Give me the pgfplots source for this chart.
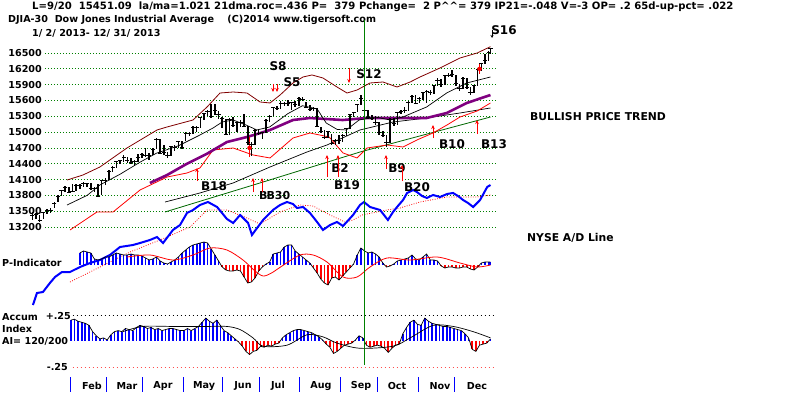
\documentclass[border=0pt]{standalone}
\usepackage{pgfplots}
\usepackage{pgfplotstable}
\pgfplotsset{compat=1.18}
\usepackage{fontspec}
\setmainfont{DejaVu Sans}
\usetikzlibrary{arrows.meta}
\definecolor{gridgreen}{RGB}{0,128,0}
\definecolor{maroonband}{RGB}{128,0,0}
\definecolor{mapurple}{RGB}{128,0,128}

\pgfplotstableread{
d c h l
0 13412 13480 13340
2 13435 13470 13360
4 13329 13420 13290
6 13471 13490 13360
8 13507 13540 13450
10 13511 13560 13470
12 13650 13670 13560
14 13779 13800 13680
16 13896 13910 13790
18 13954 13970 13860
20 13861 13960 13840
22 13880 14020 13860
24 13987 14010 13880
26 13992 14020 13930
28 14019 14050 13960
30 14018 14040 13950
32 13928 14030 13900
34 13927 13960 13870
36 13784 14010 13770
38 14075 14090 13800
40 14090 14120 13990
42 14254 14290 14100
44 14329 14350 14250
46 14448 14460 14320
48 14455 14480 14400
50 14514 14560 14430
52 14456 14530 14410
54 14421 14500 14390
56 14448 14470 14380
58 14527 14580 14440
60 14573 14600 14500
62 14550 14690 14520
64 14565 14600 14470
66 14673 14700 14560
68 14865 14890 14680
70 14599 14870 14580
72 14619 14760 14560
74 14547 14630 14500
76 14719 14740 14540
78 14700 14760 14650
80 14819 14840 14690
82 14700 14830 14680
84 14974 15010 14830
86 14969 15000 14930
88 15082 15110 14960
90 15091 15120 15010
92 15275 15290 15070
94 15354 15370 15230
96 15388 15420 15300
98 15294 15540 15270
100 15409 15540 15330
102 15324 15400 15250
104 15254 15280 15080
106 14960 15240 14940
108 15248 15260 14950
110 15122 15280 15100
112 15177 15200 15000
114 15180 15220 15100
116 15112 15340 15100
118 14800 15110 14760
120 14760 14820 14550
122 15024 15050 14750
124 14975 15060 14940
126 14988 15000 14860
128 15225 15240 14990
130 15291 15320 15200
132 15464 15480 15300
134 15452 15500 15420
136 15548 15580 15440
138 15545 15570 15500
140 15542 15600 15490
142 15559 15570 15420
144 15521 15580 15480
146 15628 15660 15500
148 15612 15660 15580
150 15470 15570 15450
152 15425 15520 15400
154 15451 15480 15400
156 15113 15450 15100
158 15010 15100 14980
160 14897 15040 14880
162 15010 15030 14880
164 14776 14960 14760
166 14840 14860 14760
168 14834 14940 14770
170 14938 14960 14820
172 15063 15080 14920
174 15326 15340 15060
176 15376 15390 15280
178 15529 15540 15380
180 15636 15710 15520
182 15401 15650 15390
184 15273 15420 15240
186 15258 15320 15230
188 15191 15300 15130
190 14997 15190 14950
192 14936 15030 14900
194 14802 14950 14720
196 15237 15260 14800
198 15168 15260 15120
200 15372 15390 15140
202 15392 15420 15350
204 15413 15470 15370
206 15570 15590 15400
208 15680 15700 15560
210 15546 15710 15530
212 15639 15660 15550
214 15746 15760 15600
216 15762 15790 15560
218 15751 15800 15710
220 15876 15890 15730
222 15976 16030 15870
224 15901 16010 15860
226 16065 16080 15900
228 16073 16120 16040
230 16086 16170 16050
232 15915 16090 15880
234 15821 15920 15780
236 16025 16040 15820
238 15844 16030 15830
240 15755 15860 15700
242 15875 15900 15740
244 16179 16190 15870
246 16294 16310 16160
248 16358 16490 16290
250 16505 16530 16350
251 16577 16590 16480
}\pricetable

\pgfplotstableread{
d c h l
119 14700 14900 14520
245 16200 16290 16110
}\redbars

\pgfplotstableread{
d v
26 12
28 14
30 13
32 12
34 6
36 5
38 6
40 8
42 8
44 10
46 12
48 11
50 10
52 10
54 11
56 10
58 10
60 9
62 7
64 5
66 6
68 8
70 4
72 2
74 1
76 3
78 5
80 8
82 12
84 15
86 18
88 20
90 21
92 22
94 23
96 22
98 16
100 10
102 4
104 -2
106 -5
108 -6
110 -6
112 -5
114 -6
116 -12
118 -18
120 -17
122 -13
124 -6
126 -2
128 1
130 3
132 11
134 12
136 13
138 18
140 20
142 20
144 14
146 11
148 8
150 5
152 2
154 -3
156 -8
158 -14
160 -18
162 -20
164 -13
166 -12
168 -15
170 -11
172 -7
174 -3
176 1
178 10
180 17
182 14
184 12
186 13
188 11
190 8
192 2
194 -2
196 -1
198 1
200 4
202 5
204 6
206 7
208 10
210 6
212 5
214 8
216 11
218 5
220 5
222 4
224 -1
226 -3
228 -2
230 -2
232 -3
234 -3
236 -2
238 -2
240 -4
242 -5
244 -2
246 2
248 3
250 3
251 3
}\pind

\pgfplotstableread{
d v
21 .20
23 .21
25 .19
27 .18
29 .17
31 .15
33 .09
35 .05
37 .02
39 .03
41 .01
43 .06
45 .09
47 .10
49 .09
51 .12
53 .11
55 .10
57 .13
59 .15
61 .14
63 .12
65 .13
67 .11
69 .12
71 .10
73 .11
75 .12
77 .12
79 .11
81 .10
83 .10
85 .12
87 .10
89 .12
91 .14
93 .18
95 .22
97 .19
99 .17
101 .20
103 .15
105 .10
107 .08
109 .05
111 .02
113 -.01
115 -.05
117 -.10
119 -.13
121 -.10
123 -.09
125 -.05
127 -.06
129 -.04
131 -.05
133 -.03
135 -.02
137 .03
139 .06
141 .08
143 .10
145 .11
147 .11
149 .10
151 .09
153 .08
155 .06
157 .04
159 .01
161 -.03
163 -.06
165 -.12
167 -.10
169 -.07
171 -.04
173 -.03
175 -.02
177 .01
179 .05
181 .03
183 -.04
185 -.06
187 -.05
189 -.04
191 -.05
193 -.07
195 -.11
197 -.07
199 -.04
201 -.03
203 .07
205 .13
207 .18
209 .20
211 .16
213 .15
215 .22
217 .19
219 .17
221 .16
223 .15
225 .14
227 .14
229 .13
231 .12
233 .11
235 .10
237 .07
239 .03
241 -.08
243 -.10
245 -.04
247 -.03
249 -.02
251 .02
}\accum

\begin{document}
\begin{tikzpicture}
\useasboundingbox (0,0) rectangle (800pt,397pt);
\pgfplotsset{panel/.style={scale only axis, width=800pt, height=397pt,
  at={(0pt,0pt)}, anchor=south west, xmin=-17.75, xmax=420.6, hide axis}}

% ---------------- price panel ----------------
\begin{axis}[panel, ymin=9976, ymax=17505]
\pgfplotsinvokeforeach{13200,13500,13800,14100,14400,14700,15000,15300,15600,15900,16200,16500}{
  \addplot[gridgreen, line width=0.7pt, dash pattern=on 0.8pt off 2.2pt] coordinates {(6.9,#1) (253.5,#1)};
}
% green trend line
\addplot[gridgreen!80!black, line width=0.8pt] coordinates {(72.7,13485) (124.7,14035) (179.5,14622) (251,15286)};
% long black MA
\addplot[black, line width=0.7pt] coordinates {(72.7,13674) (91.8,13845) (110,14035) (130.2,14338) (150.4,14622) (161.4,14755) (179.5,15040) (197.6,15191) (216,15267) (234.3,15362) (251,15457)};
% lower band
\addplot[red, line width=0.8pt] coordinates {(20.6,13143) (35.4,13485) (44.2,13485) (59,13902) (73.8,14148) (84.7,14224) (91.8,14319) (99,14660) (110,14698) (120.9,14566) (130.2,14509) (142.8,14888) (152.1,14983) (162.6,14907) (170.2,14604) (177.9,14509) (183.3,14698) (194.3,14755) (203.1,14717) (210.7,14850) (219.5,14983) (227.2,15135) (234.3,15286) (243.7,15400) (251,15552)};
% upper band
\addplot[maroonband, line width=0.8pt] coordinates {(19,14091) (27.7,14186) (37,14338) (51.8,14698) (68.3,15040) (73.8,15097) (88,15229) (95.7,15476) (102.8,15741) (110,15760) (117.6,15741) (124.7,15571) (130.2,15552) (135.7,15703) (142.8,15931) (148.3,16045) (153.2,16083) (159.2,16026) (166.9,15855) (172.4,15741) (177.9,15798) (185,15931) (192.1,15950) (199.8,15855) (207,15950) (212.4,16045) (223.4,16216) (234.3,16405) (243.7,16500) (251,16620)};
% purple MA
\addplot[mapurple, line width=2.6pt] coordinates {(64.4,14035) (73.8,14186) (84.7,14400) (95.7,14590) (106.6,14812) (117.6,14907) (124.7,14980) (130.2,15040) (142.8,15229) (152,15267) (170,15229) (183,15267) (197.6,15267) (216,15267) (227,15362) (238,15552) (251,15703)};
% 21-day MA
\addplot[black, line width=0.7pt] coordinates {(19,13617) (30,13800) (37,13997) (48,14200) (59,14430) (68,14600) (80,14740) (91,14930) (99,15078) (104,15191) (110,15229) (117,15135) (123,15040) (130,15097) (140,15350) (148,15500) (156,15440) (161,15172) (167,15050) (172,15040) (179,15229) (188,15286) (196,15229) (203,15286) (216,15476) (227,15741) (238,15931) (251,16045)};
% price bars
\addplot[black, only marks, mark=-, mark size=2.1pt, mark options={line width=1pt},
  error bars/.cd, y dir=both, y explicit, error mark=none,
  error bar style={line width=1.5pt}]
  table[x=d, y=c, y error plus expr=\thisrow{h}-\thisrow{c}, y error minus expr=\thisrow{c}-\thisrow{l}] {\pricetable};
\addplot[red, only marks, mark=none,
  error bars/.cd, y dir=both, y explicit, error mark=none,
  error bar style={line width=1.5pt}]
  table[x=d, y=c, y error plus expr=\thisrow{h}-\thisrow{c}, y error minus expr=\thisrow{c}-\thisrow{l}] {\redbars};
\end{axis}

% ---------------- A/D line panel ----------------
\begin{axis}[panel, ymin=0, ymax=397]
\addplot[red, line width=0.8pt, dash pattern=on 0.8pt off 1.6pt] coordinates {(20.6,115) (37,130) (53.5,145) (69.9,157) (86.4,170) (95.7,187) (106.6,187) (117.6,179) (124.7,173) (135.7,185) (146.6,192) (153.8,191) (163.1,182) (171.3,175) (175.7,177) (180.6,182) (194.3,187) (201.4,189) (212.4,195) (227.2,200) (243.7,200) (251,202)};
\addplot[blue, line width=2pt] coordinates {(0.3,92) (2.5,104) (5.8,105) (9.6,114) (12.4,120) (16.2,125) (20.6,125) (26.1,130) (31.6,134) (37,137) (42.5,142) (48,150) (55.1,152) (59,154) (64.4,157) (68.3,160) (71.6,154) (77,167) (80.9,172) (84.7,184) (88,187) (91.8,192) (96.2,195) (101.2,190) (106.6,178) (110,174) (113.8,182) (118.2,174) (120.3,162) (123.1,169) (126.4,177) (131.8,187) (135.7,192) (139.5,195) (142.8,193) (145,189) (148.3,190) (152.1,184) (156,175) (159.2,167) (163.1,172) (166.9,175) (170.2,171) (175.7,182) (179.5,192) (181.7,195) (185,190) (190.5,187) (194.8,177) (197.6,185) (199.8,190) (203.1,197) (205.3,204) (208.6,207) (210.7,205) (213.5,201) (216.2,199) (219.5,202) (223.4,200) (227.2,203) (230.5,204) (233.2,201) (236,197) (238.7,194) (241.5,190) (245.3,197) (249.2,210) (251,212)};
\end{axis}

% ---------------- P-Indicator panel ----------------
\begin{axis}[panel, ymin=-132, ymax=265]
\addplot[blue, ycomb, line width=1.7pt] table[x=d, y expr={max(\thisrow{v},0)}] {\pind};
\addplot[red, ycomb, line width=1.7pt] table[x=d, y expr={min(\thisrow{v},0)}] {\pind};
\addplot[black, line width=0.7pt] table[x=d, y=v] {\pind};
\addplot[red, line width=0.8pt, smooth] coordinates {(51.8,8) (64.4,10) (77,5) (88,10) (97.3,17) (106.6,15) (115.4,5) (122,-6) (126.4,-11) (131,-8) (136.8,-1) (146.6,10) (153.8,10) (161.4,3) (170.2,-12) (177.9,-12) (185,-2) (194.3,7) (207,5) (221.7,8) (234.3,2) (243.7,-2) (251,0)};
\end{axis}

% ---------------- Accum Index panel ----------------
\begin{axis}[panel, ymin=-0.5385, ymax=3.2788]
\addplot[black, line width=0.7pt, dash pattern=on 0.8pt off 3.2pt] coordinates {(22,0.25) (253.5,0.25)};
\addplot[red!70, line width=0.7pt, dash pattern=on 0.8pt off 3.2pt] coordinates {(22,-0.25) (253.5,-0.25)};
\addplot[blue, ycomb, line width=1.7pt] table[x=d, y expr={max(\thisrow{v},0)}] {\accum};
\addplot[red, ycomb, line width=1.7pt] table[x=d, y expr={min(\thisrow{v},0)}] {\accum};
\addplot[black, line width=0.7pt] table[x=d, y=v] {\accum};
\addplot[black, line width=0.7pt, smooth] coordinates {(49.6,.09) (60.6,.14) (77,.14) (95.7,.14) (106.6,.14) (113.8,.11) (120.9,.03) (126.4,-.05) (139.5,-.04) (150.5,.06) (159.2,.04) (166.9,-.02) (179.5,-.07) (197.6,-.05) (207,.03) (219.5,.15) (230.5,.14) (241.5,.09) (251,.03)};
\end{axis}

% ---------------- annotations in pixel coordinates ----------------
\begin{scope}[x=1pt, y=-1pt, shift={(0pt,397pt)}, every node/.style={inner sep=0pt, font=\fontsize{9.6}{11}\selectfont\bfseries}]
\node[anchor=west, font=\fontsize{10.1}{11}\selectfont\bfseries] at (32,7) {L=9/20\ \ 15451.09\ \ la/ma=1.021 21dma.roc=.436 P=\ \ 379 Pchange=\ \ 2 P\textasciicircum\textasciicircum= 379 IP21=-.048 V=-3 OP= .2 65d-up-pct= .022};
\node[anchor=west] at (8,20) {DJIA-30\ \ Dow Jones Industrial Average\ \ \ \ (C)2014 www.tigersoft.com};
\node[anchor=west] at (32,33) {1/ 2/ 2013- 12/ 31/ 2013};
% price labels
\foreach \p/\yy in {16500/53,16200/68.8,15900/84.6,15600/100.5,15300/116.3,15000/132.1,14700/147.9,14400/163.7,14100/179.6,13800/195.4,13500/211.2,13200/227}
  \node[anchor=east] at (42,\yy) {\p};
% vertical green line
\draw[gridgreen, line width=0.9pt] (364,20) -- (364,365);
% right-side texts
\node[anchor=west, font=\fontsize{10.8}{12}\selectfont\bfseries] at (530,117) {BULLISH PRICE TREND};
\node[anchor=west, font=\fontsize{10.8}{12}\selectfont\bfseries] at (527,238) {NYSE A/D Line};
% left panel labels
\node[anchor=west] at (2,263) {P-Indicator};
\node[anchor=west] at (2,317) {Accum};
\node[anchor=west] at (2,329) {Index};
\node[anchor=west] at (2,341) {AI= 120/200};
\node[anchor=east] at (71,316) {+.25};
\node[anchor=east] at (68,367) {-.25};
% month ticks and names
\foreach \xx in {70.7,106,142.7,183,222.7,259,299,340,377,418,454}
  \draw[blue, line width=0.9pt] (\xx,377) -- (\xx,392);
\foreach \m/\xx in {Feb/92,Mar/127,Apr/163,May/204,Jun/243,Jul/278,Aug/321,Sep/361,Oct/397,Nov/440,Dec/477}
  \node at (\xx,386) {\m};
% signals
\begin{scope}[every node/.style={inner sep=0pt, font=\fontsize{12}{14}\selectfont\bfseries}]
\node at (278,66) {S8};
\node at (292,82) {S5};
\node at (369,74) {S12};
\node at (504,30) {S16};
\node at (214,186) {B18};
\node[anchor=west, font=\fontsize{11}{13}\selectfont\bfseries] at (259,195) {B\kern-1pt B30};
\node at (340,168) {B2};
\node at (347,185) {B19};
\node at (397,168) {B9};
\node at (417,187) {B20};
\node at (452,144) {B10};
\node at (494,144) {B13};
\end{scope}
\begin{scope}[red, line width=0.8pt, -{Stealth[length=4pt,width=3.5pt]}]
\draw (197,181) -- (197,168);
\draw (253,192) -- (253,178);
\draw (262,192) -- (262,178);
\draw (327,177) -- (327,155);
\draw (338,177) -- (338,155);
\draw (386,169) -- (386,155);
\draw (402,181) -- (402,165);
\draw (433,138) -- (433,125);
\draw (477,134) -- (477,120);
\draw (349,68) -- (349,83);
\draw (273,84) -- (273,92);
\draw (277,84) -- (277,92);
\end{scope}
\draw[black, line width=0.7pt, -{Stealth[length=3pt,width=3pt]}] (492,30) -- (492,38);
\end{scope}
\end{tikzpicture}
\end{document}
